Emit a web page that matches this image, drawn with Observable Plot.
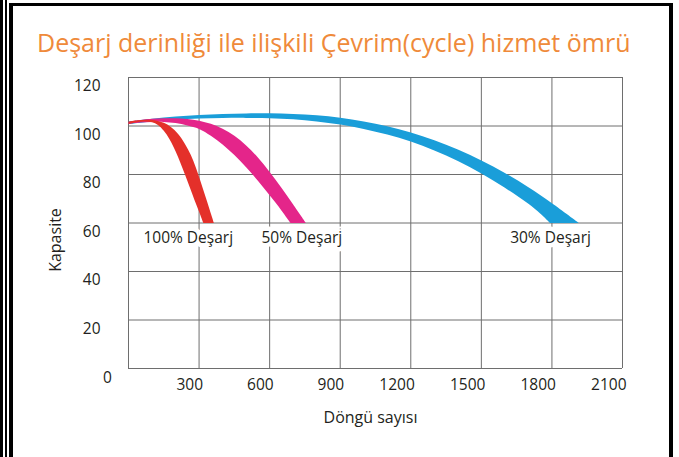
<!DOCTYPE html>
<html>
<head>
<meta charset="utf-8">
<script src="https://cdn.jsdelivr.net/npm/d3@7"></script>
<script src="https://cdn.jsdelivr.net/npm/@observablehq/plot@0.6"></script>
<style>
  html, body { margin: 0; padding: 0; background: #fff; }
  #page { position: relative; width: 679px; height: 457px; overflow: hidden; background: #fff; }
  .bar { position: absolute; background: #000; }
  #title { position: absolute; left: 37px; top: 30px; font-family: 'Open Sans', sans-serif; font-size: 25px; line-height: 25px; color: #ef8a3a; white-space: nowrap; }
  #chart { position: absolute; left: 0; top: 62px; }
</style>
</head>
<body>
<div id="page">
  <div class="bar" style="left:0;top:0;width:3px;height:457px"></div>
  <div class="bar" style="left:5px;top:0;width:2px;height:457px"></div>
  <div class="bar" style="left:9px;top:3px;width:4px;height:454px"></div>
  <div class="bar" style="left:9px;top:3px;width:664px;height:3px"></div>
  <div class="bar" style="left:669px;top:3px;width:4px;height:454px"></div>
  <div id="title">Deşarj derinliği ile ilişkili Çevrim(cycle) hizmet ömrü</div>
  <div id="chart"></div>
</div>
<script>
// Axis ticks
const xTicks = [300, 600, 900, 1200, 1500, 1800, 2100];
const yTicks = [20, 40, 60, 80, 100, 120];
const zeroLabel = ["0"];
const xTitle = ["Döngü sayısı"];
const yTitle = ["Kapasite"];

// 100% discharge band (red): upper/outer edge and lower/inner edge (cycles, capacity)
const redUpperCycles = [0, 40, 80, 120, 150, 180, 210, 240, 265, 285, 305, 325, 345, 363];
const redUpperCap    = [101.8, 102.4, 102.6, 102.2, 101.3, 99.6, 96.8, 92.6, 88.0, 83.2, 77.5, 71.5, 65.5, 60];
const redLowerCycles = [0, 40, 70, 100, 125, 150, 175, 200, 220, 240, 260, 280, 300, 318];
const redLowerCap    = [100.8, 101.6, 101.9, 101.5, 100.4, 98.0, 94.4, 89.6, 85.0, 80.0, 74.8, 69.6, 64.6, 60];

// 50% discharge band (pink)
const pinkUpperCycles = [0, 50, 100, 150, 200, 250, 300, 350, 400, 450, 500, 550, 600, 650, 700, 754];
const pinkUpperCap    = [101.8, 102.5, 102.95, 103.2, 103.2, 102.9, 102.2, 100.9, 98.9, 96.0, 92.0, 87.0, 81.0, 74.5, 67.6, 60];
const pinkLowerCycles = [0, 50, 100, 150, 200, 250, 300, 350, 400, 450, 500, 550, 600, 650, 689];
const pinkLowerCap    = [100.8, 101.4, 101.7, 101.7, 101.2, 100.2, 98.8, 96.0, 92.4, 88.0, 83.0, 77.4, 71.4, 65.2, 60];

// 30% discharge band (blue)
const blueUpperCycles = [0, 100, 200, 300, 400, 500, 600, 700, 800, 900, 1000, 1100, 1200, 1300, 1400, 1500, 1600, 1700, 1800, 1914];
const blueUpperCap    = [101.8, 103.0, 103.9, 104.5, 104.95, 105.2, 105.25, 105.0, 104.4, 103.4, 101.9, 99.9, 97.3, 94.1, 90.3, 85.8, 80.6, 74.7, 68.1, 60];
const blueLowerCycles = [0, 100, 200, 300, 400, 500, 600, 700, 800, 900, 1000, 1100, 1200, 1300, 1400, 1500, 1600, 1700, 1750, 1792];
const blueLowerCap    = [100.8, 101.9, 102.6, 103.05, 103.3, 103.35, 103.2, 102.75, 101.9, 100.6, 98.8, 96.5, 93.6, 89.9, 85.6, 80.4, 74.5, 67.9, 63.9, 60];

// Series labels
const labelText   = ["100% Deşarj", "50% Deşarj", "30% Deşarj"];
const labelCycles = [254, 737, 1794];
const labelCap    = [53.6, 53.6, 53.6];

// Closed outline of a band: upper edge forward, lower edge back (corner points doubled to keep them sharp)
function band(uc, uv, lc, lv) {
  const up = uc.map((c, i) => ({cycles: c, cap: uv[i]}));
  const lo = lc.map((c, i) => ({cycles: c, cap: lv[i]})).reverse();
  return [...up, up[up.length - 1], lo[0], ...lo];
}
const labels = labelText.map((t, i) => ({text: t, cycles: labelCycles[i], cap: labelCap[i]}));

const gridColor = "#6e6e6e";
const fmt = d => String(d);
const chart = Plot.plot({
  width: 679,
  height: 395,
  marginLeft: 128,
  marginRight: 57,
  marginTop: 15,
  marginBottom: 89,
  x: {domain: [0, 2100]},
  y: {domain: [0, 120]},
  style: {fontFamily: "'Open Sans', sans-serif", fontSize: "15.5px", color: "#231f20", background: "transparent", overflow: "visible"},
  marks: [
    Plot.gridX(xTicks, {stroke: gridColor, strokeOpacity: 1, strokeWidth: 1}),
    Plot.gridY(yTicks, {stroke: gridColor, strokeOpacity: 1, strokeWidth: 1}),
    Plot.ruleX([0], {stroke: gridColor, strokeWidth: 1}),
    Plot.ruleY([0], {stroke: gridColor, strokeWidth: 1}),
    Plot.line(band(blueUpperCycles, blueUpperCap, blueLowerCycles, blueLowerCap), {x: "cycles", y: "cap", fill: "#1a9ed9", stroke: "none", curve: "catmull-rom"}),
    Plot.line(band(pinkUpperCycles, pinkUpperCap, pinkLowerCycles, pinkLowerCap), {x: "cycles", y: "cap", fill: "#e4258a", stroke: "none", curve: "catmull-rom"}),
    Plot.line(band(redUpperCycles, redUpperCap, redLowerCycles, redLowerCap), {x: "cycles", y: "cap", fill: "#e4302a", stroke: "none", curve: "catmull-rom"}),
    Plot.text(labels, {x: "cycles", y: "cap", text: "text", fill: "#231f20", stroke: "white", strokeWidth: 9, fontSize: 15.5}),
    Plot.axisX(xTicks, {tickSize: 0, tickPadding: 10, textAnchor: "end", dx: 4, label: null, fontSize: 15.5, tickFormat: fmt}),
    Plot.axisY(yTicks, {tickSize: 0, tickPadding: 28, dy: 9, label: null, fontSize: 15.5, tickFormat: fmt}),
    Plot.text(zeroLabel, {x: 0, y: 0, text: d => d, dx: -21, dy: 10, fontSize: 15.5}),
    Plot.text(yTitle, {frameAnchor: "left", text: d => d, rotate: -90, textAnchor: "middle", lineAnchor: "middle", dx: -73, dy: 17, fontSize: 16})
    ,
    Plot.text(xTitle, {frameAnchor: "bottom", text: d => d, textAnchor: "middle", lineAnchor: "middle", dx: -5, dy: 49, fontSize: 16})
  ]
});
document.getElementById("chart").appendChild(chart);
</script>
</body>
</html>
